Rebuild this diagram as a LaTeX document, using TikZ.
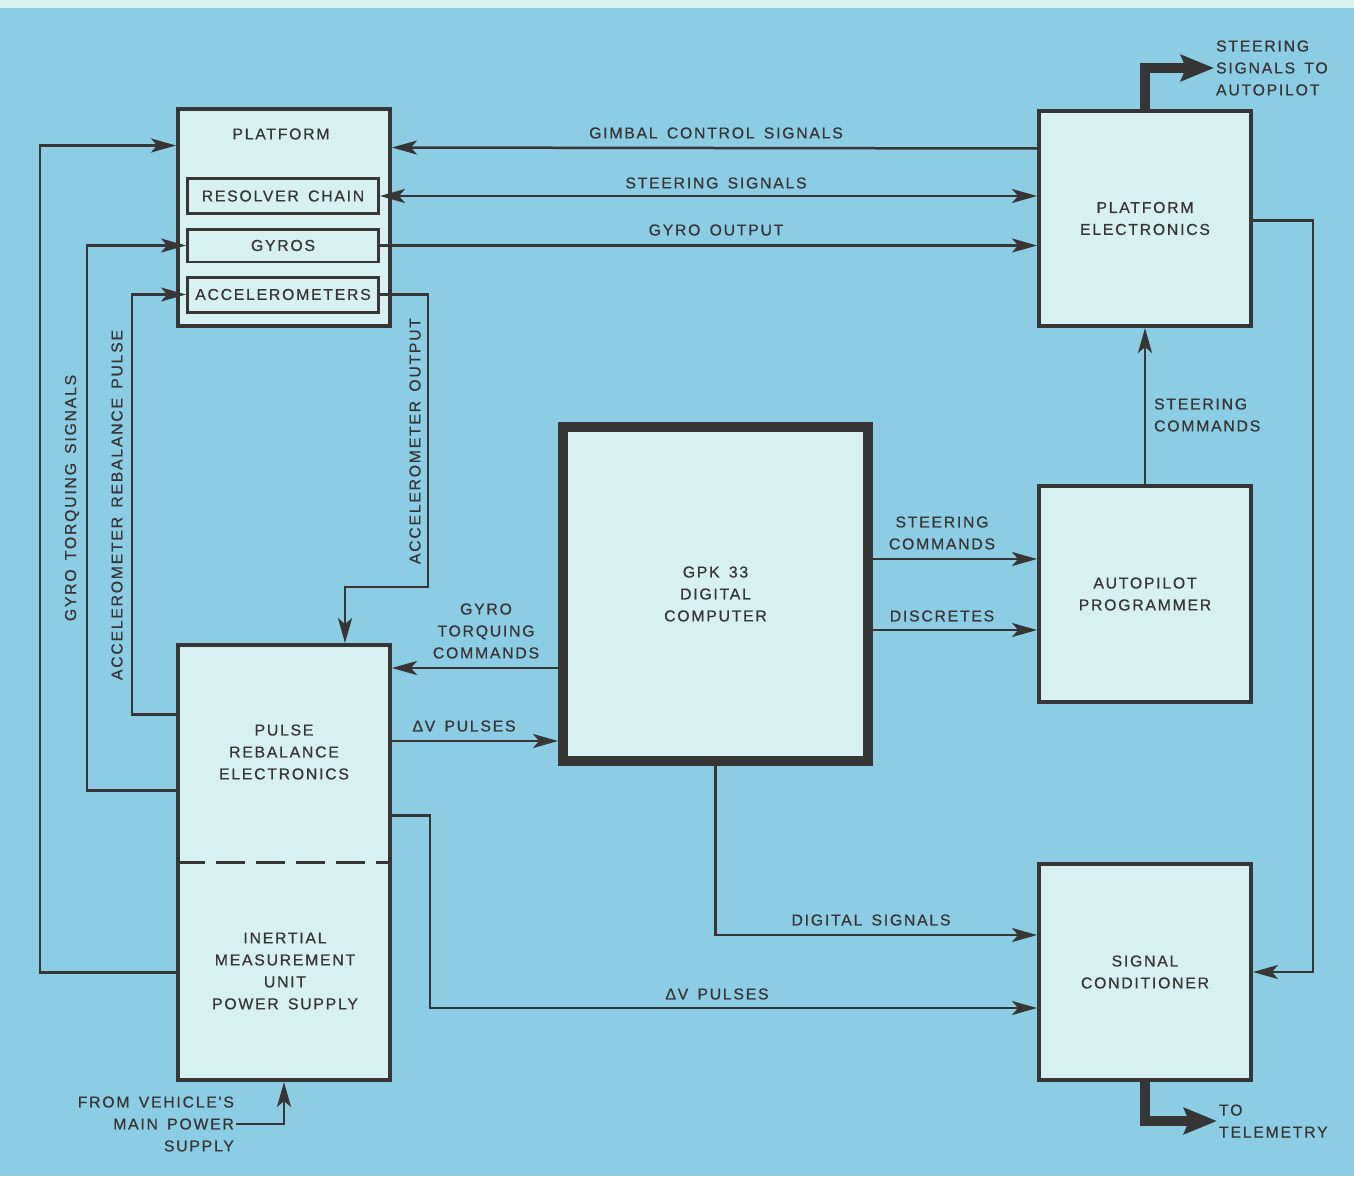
\documentclass[tikz,border=0pt]{standalone}
\usepackage{fontspec}
\usetikzlibrary{arrows.meta,calc}
\newfontfamily\labelfont{Liberation Sans}[LetterSpace=11,WordSpace=1.5,FakeBold=0.6]
\definecolor{sky}{HTML}{8DCDE3}
\definecolor{mint}{HTML}{D9F1EC}
\definecolor{panel}{HTML}{D7F1F1}
\definecolor{ink}{HTML}{363636}
\begin{document}
\begin{tikzpicture}[x=0.02cm,y=-0.02cm,font=\labelfont\fontsize{9}{12.5}\selectfont,every node/.style={text=ink},
  >={Stealth[length=0.5cm,width=0.28cm,inset=0.12cm]},
  unit/.style={draw=ink,line width=0.08cm,fill=panel,inner sep=0pt,minimum width=4.24cm,align=center},
  subunit/.style={draw=ink,line width=0.06cm,fill=panel,inner sep=0pt,minimum width=3.82cm},
  sig/.style={draw=ink,line width=0.05cm,->},
  feed/.style={draw=ink,line width=0.2cm,-{Stealth[length=0.66cm,width=0.52cm,inset=0.1cm]}},
  tag/.style={align=center,inner sep=1pt}]
% Page: sky-blue sheet with a pale strip along the top edge.
\fill[sky] (0,0) rectangle (1354,1176);
\fill[mint] (0,0) rectangle (1354,8);
% Units of the guidance set.
\node[unit,minimum height=4.34cm] (plat) at (284,217.5) {};
\node[tag] (platlbl) at (281,134) {PLATFORM};
\node[subunit,minimum height=0.72cm] (resolver) at (283,196) {RESOLVER CHAIN};
\node[subunit,minimum height=0.66cm] (gyros) at (283,245.5) {GYROS};
\node[subunit,minimum height=0.70cm] (accel) at (283,294.5) {ACCELEROMETERS};
\node[unit,minimum height=4.30cm] (pe) at (1145,218.5) {PLATFORM\\ELECTRONICS};
\node[unit,minimum height=4.34cm] (ap) at (1145,594) {AUTOPILOT\\PROGRAMMER};
\node[unit,minimum height=4.32cm] (sc) at (1145,972) {SIGNAL\\CONDITIONER};
\node[unit,minimum height=8.70cm] (pre) at (284,862.5) {};
\node[tag] (prelbl) at (284,752) {PULSE\\REBALANCE\\ELECTRONICS};
\node[tag] (imulbl) at (285,971) {INERTIAL\\MEASUREMENT\\UNIT\\POWER SUPPLY};
\draw[ink,line width=0.06cm,dash pattern=on 0.58cm off 0.22cm] (pre.west) -- (pre.east);
\node[unit,line width=0.2cm,minimum width=6.1cm,minimum height=6.68cm] (gpk) at (715.5,594) {GPK 33\\DIGITAL\\COMPUTER};
% Platform links along the top.
\draw[sig] ($(pe.west)+(0,-70)$) -- ($(plat.east)+(0,-70)$);
\draw[sig,<->] (resolver.east) -- (pe.west |- resolver.east);
\draw[sig] (gyros.east) -- (pe.west |- gyros.east);
\node[tag] (gimlbl) at (716,133) {GIMBAL CONTROL SIGNALS};
\node[tag] (steerlbl) at (716,183) {STEERING SIGNALS};
\node[tag] (gyrolbl) at (716,230) {GYRO OUTPUT};
% Loops between platform and rebalance electronics.
\draw[sig] (accel.east) -- ++(48,0) |- ($(pre.north)+(61,-56)$) -- ($(pre.north)+(61,0)$);
\draw[sig] ($(pre.west)+(0,-148)$) -- ++(-44,0) |- (accel.west);
\draw[sig] ($(pre.west)+(0,-72)$) -- ++(-89,0) |- (gyros.west);
\draw[sig] ($(pre.west)+(0,110)$) -- ++(-136,0) |- ($(plat.west)+(0,-72)$);
\node[tag,rotate=90] (accoutlbl) at (415,441) {ACCELEROMETER OUTPUT};
\node[tag,rotate=90] (reballbl) at (117,505) {ACCELEROMETER REBALANCE PULSE};
\node[tag,rotate=90] (torqlbl) at (72,498) {GYRO TORQUING SIGNALS};
% Computer links.
\draw[sig] ($(gpk.west)+(0,74)$) -- ($(pre.east)+(0,-194.5)$);
\draw[sig] ($(pre.east)+(0,-121.5)$) -- ($(gpk.west)+(0,147)$);
\draw[sig] ($(pre.east)+(0,-47)$) -- ++(38,0) |- ($(sc.west)+(0,36)$);
\draw[sig] (gpk.south) |- ($(sc.west)+(0,-37)$);
\draw[sig] ($(gpk.east)+(0,-35)$) -- ($(ap.west)+(0,-35)$);
\draw[sig] ($(gpk.east)+(0,36)$) -- ($(ap.west)+(0,36)$);
\draw[sig] (ap.north) -- (pe.south);
\draw[sig] ($(pe.east)+(0,2)$) -- ++(60,0) |- (sc.east);
\node[tag] (cmdlbl) at (486,631) {GYRO\\TORQUING\\COMMANDS};
\node[tag] (dvlbl) at (464,726) {ΔV PULSES};
\node[tag] (dvtmlbl) at (717,994) {ΔV PULSES};
\node[tag] (diglbl) at (871,920) {DIGITAL SIGNALS};
\node[tag] (apcmdlbl) at (942,533) {STEERING\\COMMANDS};
\node[tag] (disclbl) at (942,616) {DISCRETES};
\node[tag,align=left,anchor=west] (pecmdlbl) at (1152,415) {STEERING\\COMMANDS};
% Outside connections.
\node[tag,align=left,anchor=west] (toauto) at (1214,68) {STEERING\\SIGNALS TO\\AUTOPILOT};
\node[tag,align=left,anchor=west] (totm) at (1217,1121) {TO\\TELEMETRY};
\node[tag,align=right,anchor=east] (power) at (236,1124) {FROM VEHICLE'S\\MAIN POWER\\SUPPLY};
\draw[feed] (pe.north) |- (toauto.west);
\draw[feed] (sc.south) |- (totm.west);
\draw[sig] (power.east) -| (pre.south);
\end{tikzpicture}
\end{document}
